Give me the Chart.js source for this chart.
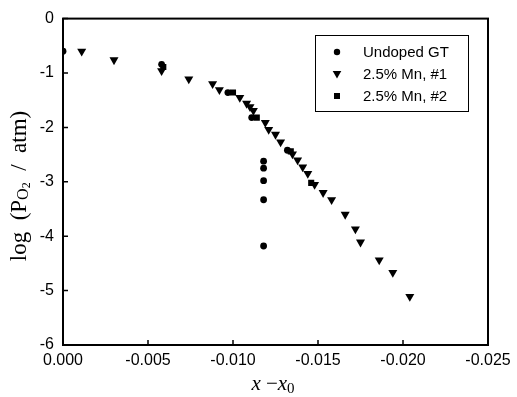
<!DOCTYPE html>
<html>
<head>
<meta charset="utf-8">
<script src="https://cdn.jsdelivr.net/npm/chart.js"></script>
<style>
  html, body { margin: 0; padding: 0; background: #fff; }
  #wrap { width: 517px; height: 397px; }
</style>
</head>
<body>
<div id="wrap"><canvas id="myChart" width="517" height="397"></canvas></div>
<script>
// data
const seriesNames = ['Undoped GT', '2.5% Mn, #1', '2.5% Mn, #2'];

const undopedX = [0.0000, -0.0058, -0.0097, -0.0111, -0.0132, -0.0118, -0.0118, -0.0118, -0.0118, -0.0118];
const undopedY = [-0.60, -0.84, -1.36, -1.82, -2.42, -2.62, -2.75, -2.98, -3.33, -4.18];

const mn1X = [-0.0011, -0.0030, -0.0058, -0.0074, -0.0088, -0.0092, -0.0104, -0.0108, -0.0110, -0.0112,
              -0.0119, -0.0121, -0.0125, -0.0128, -0.0135, -0.0138, -0.0141, -0.0144, -0.0148, -0.0153,
              -0.0158, -0.0166, -0.0172, -0.0175, -0.0186, -0.0194, -0.0204];
const mn1Y = [-0.60, -0.76, -0.96, -1.11, -1.20, -1.31, -1.45, -1.56, -1.62, -1.69,
              -1.91, -2.04, -2.13, -2.27, -2.49, -2.60, -2.73, -2.85, -3.05, -3.20,
              -3.33, -3.60, -3.87, -4.11, -4.44, -4.67, -5.11];

const mn2X = [-0.0059, -0.0100, -0.0114, -0.0134, -0.0146];
const mn2Y = [-0.89, -1.36, -1.82, -2.44, -3.02];

const xTicks = [0, -0.005, -0.010, -0.015, -0.020, -0.025];
const yTicks = [0, -1, -2, -3, -4, -5, -6];

function pts(xs, ys) { return xs.map((x, i) => ({ x: x, y: ys[i] })); }

function drawMarker(ctx, style, x, y) {
  ctx.beginPath();
  if (style === 'circle') {
    ctx.arc(x, y, 3.2, 0, Math.PI * 2);
  } else if (style === 'triangle') {
    ctx.moveTo(x - 4.3, y - 3);
    ctx.lineTo(x + 4.3, y - 3);
    ctx.lineTo(x, y + 4.5);
    ctx.closePath();
  } else {
    ctx.rect(x - 3, y - 3, 6, 6);
  }
  ctx.fill();
}

function drawParts(ctx, parts, cx, cy) {
  let w = 0;
  parts.forEach(p => { ctx.font = p.font; w += ctx.measureText(p.text).width; });
  let x = cx - w / 2;
  parts.forEach(p => {
    ctx.font = p.font;
    ctx.fillText(p.text, x, cy + (p.dy || 0));
    x += ctx.measureText(p.text).width;
  });
}

const framePlugin = {
  id: 'frame',
  afterDraw(chart) {
    const ctx = chart.ctx;
    const a = chart.chartArea;
    const xs = chart.scales.x, ys = chart.scales.y;
    ctx.save();
    ctx.strokeStyle = '#000';
    ctx.fillStyle = '#000';
    // box
    ctx.lineWidth = 2;
    ctx.strokeRect(a.left, a.top, a.right - a.left, a.bottom - a.top);
    // inward ticks
    ctx.lineWidth = 1.5;
    ctx.beginPath();
    xTicks.forEach(v => {
      const px = xs.getPixelForValue(v);
      ctx.moveTo(px, a.bottom); ctx.lineTo(px, a.bottom - 5);
    });
    yTicks.forEach(v => {
      const py = ys.getPixelForValue(v);
      ctx.moveTo(a.left, py); ctx.lineTo(a.left + 5, py);
    });
    ctx.stroke();

    // axis titles
    ctx.textBaseline = 'middle';
    ctx.save();
    ctx.translate(20, 186);
    ctx.rotate(-Math.PI / 2);
    drawParts(ctx, [
      { text: 'log  (P', font: '23px "Liberation Serif"' },
      { text: 'O', font: '16px "Liberation Serif"', dy: 4 },
      { text: '2', font: '12px "Liberation Serif"', dy: 7 },
      { text: '  /  atm)', font: '23px "Liberation Serif"' }
    ], 0, 0);
    ctx.restore();
    drawParts(ctx, [
      { text: 'x', font: 'italic 21px "Liberation Serif"' },
      { text: ' \u2212', font: '21px "Liberation Serif"' },
      { text: 'x', font: 'italic 21px "Liberation Serif"' },
      { text: '0', font: '15px "Liberation Serif"', dy: 5 }
    ], 273, 384);

    // legend
    ctx.lineWidth = 1;
    ctx.strokeRect(315.5, 35.5, 153, 76);
    ctx.font = '15px "Liberation Sans"';
    ctx.textAlign = 'left';
    chart.data.datasets.forEach((ds, i) => {
      const ly = 52 + i * 22;
      drawMarker(ctx, ds.pointStyle, 337, ly);
      ctx.fillText(ds.label, 363, ly + 1);
    });
    ctx.restore();
  }
};

const ctx = document.getElementById('myChart').getContext('2d');
new Chart(ctx, {
  type: 'scatter',
  data: {
    datasets: [
      { label: seriesNames[0], data: pts(undopedX, undopedY), pointStyle: 'circle',
        pointRadius: 3.4, backgroundColor: '#000', borderColor: '#000', borderWidth: 0 },
      { label: seriesNames[1], data: pts(mn1X, mn1Y), pointStyle: 'triangle', pointRotation: 180,
        pointRadius: 5.2, backgroundColor: '#000', borderColor: '#000', borderWidth: 0 },
      { label: seriesNames[2], data: pts(mn2X, mn2Y), pointStyle: 'rect',
        pointRadius: 4.3, backgroundColor: '#000', borderColor: '#000', borderWidth: 0 }
    ]
  },
  options: {
    responsive: false,
    animation: false,
    layout: { padding: { top: 15, right: 29, left: 0, bottom: 0 } },
    plugins: { legend: { display: false }, tooltip: { enabled: false } },
    scales: {
      x: {
        type: 'linear', reverse: true, min: -0.025, max: 0,
        afterBuildTicks: s => { s.ticks = xTicks.map(v => ({ value: v })); },
        afterFit: s => { s.height = 52; },
        grid: { display: false, drawTicks: false },
        border: { display: false },
        ticks: { padding: 6, color: '#000', font: { family: 'Liberation Sans', size: 16 },
                 maxRotation: 0, callback: v => v.toFixed(3) }
      },
      y: {
        type: 'linear', min: -6, max: 0,
        afterBuildTicks: s => { s.ticks = yTicks.map(v => ({ value: v })); },
        afterFit: s => { s.width = 63; },
        grid: { display: false, drawTicks: false },
        border: { display: false },
        ticks: { padding: 9, color: '#000', font: { family: 'Liberation Sans', size: 16 },
                 callback: v => String(v) }
      }
    }
  },
  plugins: [framePlugin]
});
</script>
</body>
</html>
